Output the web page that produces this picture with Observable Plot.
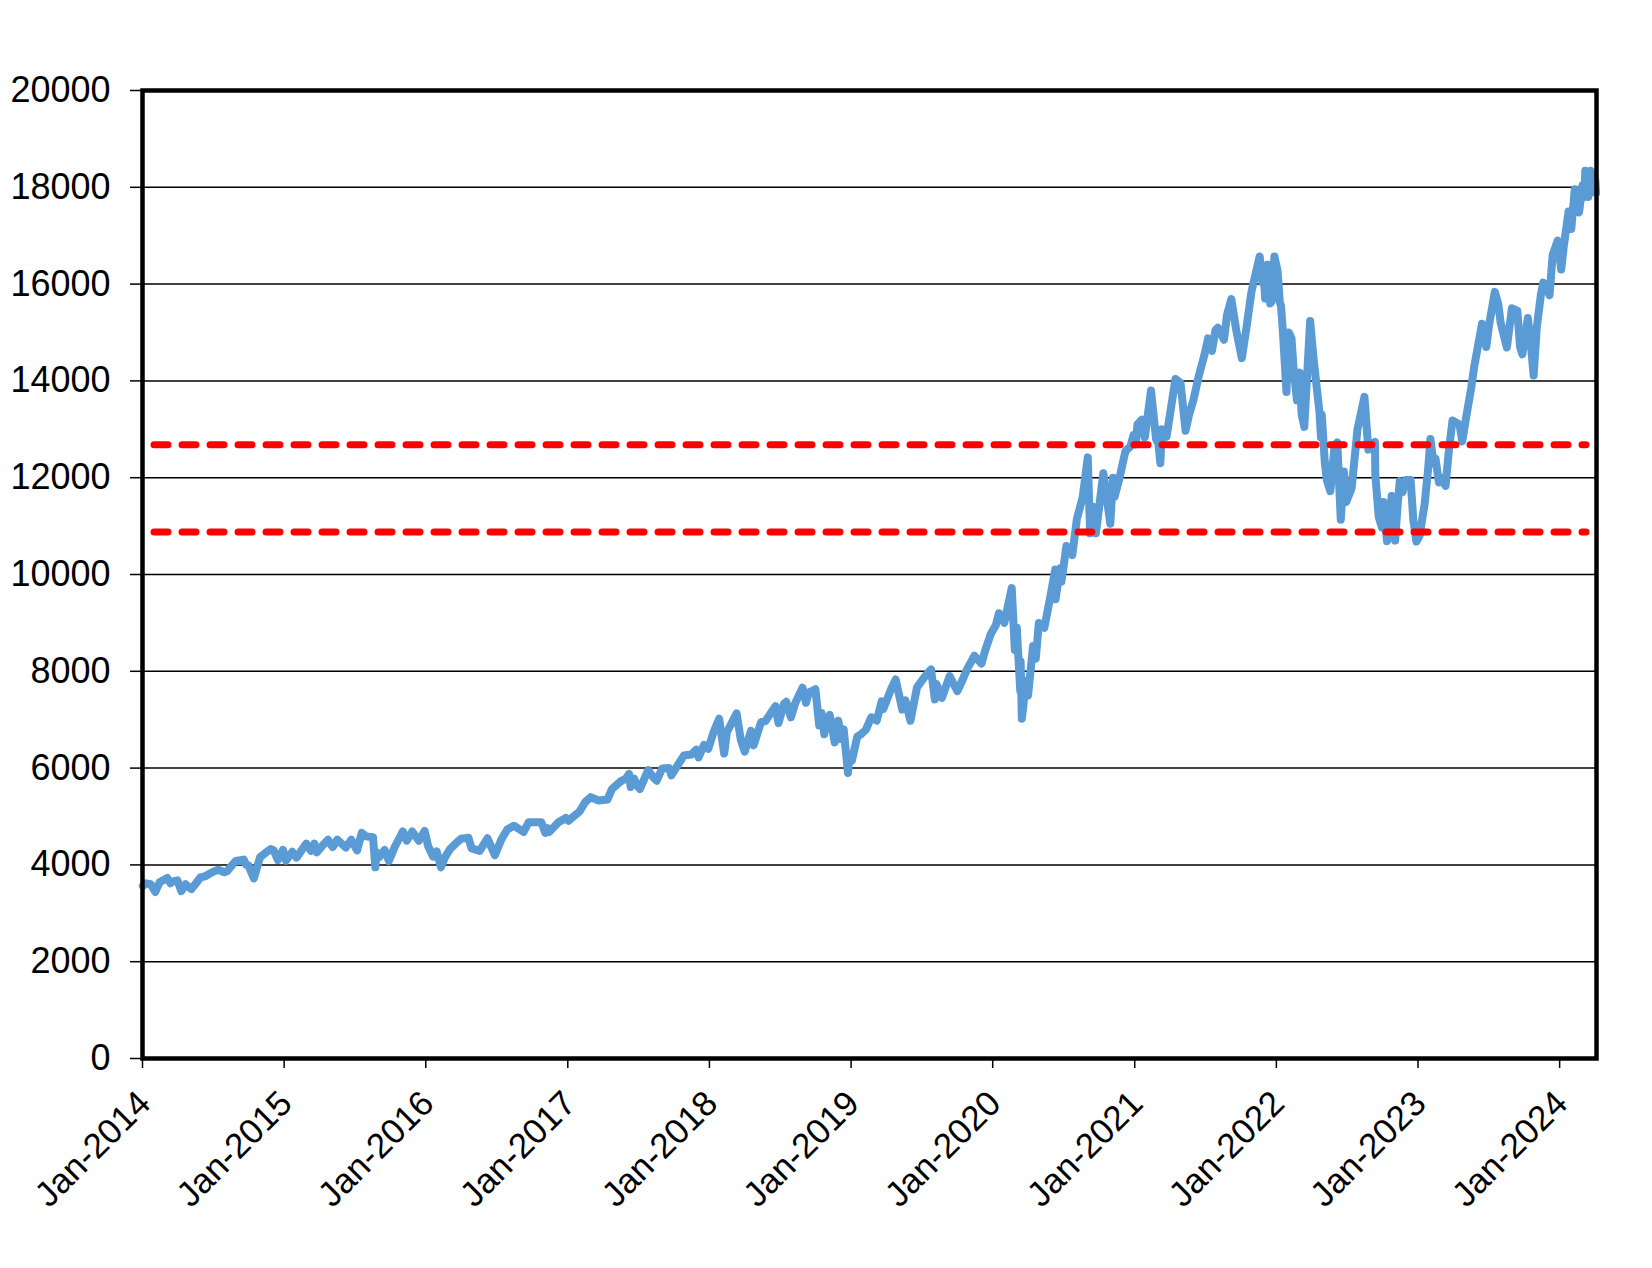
<!DOCTYPE html>
<html>
<head>
<meta charset="utf-8">
<script src="https://cdn.jsdelivr.net/npm/d3@7"></script>
<script src="https://cdn.jsdelivr.net/npm/@observablehq/plot@0.6"></script>
<style>
  html, body { margin: 0; padding: 0; background: #ffffff; }
  #chart svg { font-family: "Liberation Sans", Arial, sans-serif; overflow: visible; }
</style>
</head>
<body>
<div id="chart"></div>
<script>
// Index level by date
const dates = [
"2014-01-02","2014-01-10","2014-01-22","2014-02-03","2014-02-14","2014-03-06","2014-03-14","2014-03-21","2014-04-01","2014-04-11","2014-04-16","2014-04-22","2014-05-07","2014-05-15","2014-05-30","2014-06-13","2014-06-30","2014-07-15","2014-07-31","2014-08-07","2014-08-29","2014-09-19","2014-09-25","2014-10-01","2014-10-15","2014-10-31","2014-11-14","2014-11-28","2014-12-05","2014-12-16","2014-12-29",
"2015-01-06","2015-01-22","2015-02-02","2015-02-27","2015-03-11","2015-03-20","2015-03-26","2015-04-10","2015-04-24","2015-05-06","2015-05-18","2015-06-09","2015-06-23","2015-07-08","2015-07-20","2015-07-31","2015-08-18","2015-08-24","2015-08-27","2015-09-03","2015-09-17","2015-09-28","2015-10-13","2015-10-22","2015-11-03","2015-11-13","2015-11-27","2015-12-14","2015-12-29",
"2016-01-07","2016-01-20","2016-01-29","2016-02-09","2016-02-19","2016-03-04","2016-03-18","2016-04-01","2016-04-20","2016-04-28","2016-05-19","2016-06-08","2016-06-27","2016-07-14","2016-07-29","2016-08-15","2016-09-09","2016-09-22","2016-10-25","2016-11-04","2016-11-10","2016-11-14","2016-12-08","2016-12-27",
"2017-01-03","2017-01-17","2017-01-31","2017-02-15","2017-03-01","2017-03-21","2017-04-13","2017-04-25","2017-05-16","2017-05-30","2017-06-08","2017-06-12","2017-06-21","2017-06-29","2017-07-06","2017-07-27","2017-08-10","2017-08-18","2017-09-01","2017-09-19","2017-09-25","2017-10-13","2017-10-27","2017-11-15","2017-11-28","2017-12-04","2017-12-18","2017-12-29",
"2018-01-12","2018-01-26","2018-02-08","2018-02-15","2018-03-12","2018-03-23","2018-04-02","2018-04-18","2018-04-25","2018-05-14","2018-05-25","2018-06-20","2018-06-28","2018-07-12","2018-07-18","2018-07-30","2018-08-10","2018-08-29","2018-09-07","2018-09-14","2018-10-01","2018-10-11","2018-10-17","2018-10-24","2018-10-26","2018-11-07","2018-11-20","2018-11-29","2018-12-07","2018-12-13","2018-12-24","2018-12-28",
"2019-01-03","2019-01-17","2019-01-25","2019-02-08","2019-02-22","2019-03-08","2019-03-21","2019-03-25","2019-04-15","2019-04-26","2019-05-13","2019-05-21","2019-06-03","2019-06-20","2019-07-10","2019-07-26","2019-08-05","2019-08-09","2019-08-23","2019-09-12","2019-10-02","2019-10-14","2019-10-28","2019-11-15","2019-12-03","2019-12-13","2019-12-27",
"2020-01-09","2020-01-17","2020-01-31","2020-02-19","2020-02-27","2020-03-03","2020-03-12","2020-03-13","2020-03-16","2020-03-20","2020-03-26","2020-04-01","2020-04-14","2020-04-21","2020-04-29","2020-05-13","2020-05-29","2020-06-10","2020-06-11","2020-06-23","2020-06-26","2020-07-09","2020-07-24","2020-08-05","2020-08-20","2020-09-02","2020-09-08","2020-09-15","2020-09-23","2020-10-12","2020-10-30","2020-11-06","2020-11-10","2020-11-23","2020-12-08","2020-12-21","2020-12-29",
"2021-01-04","2021-01-08","2021-01-19","2021-01-27","2021-02-12","2021-02-25","2021-03-03","2021-03-08","2021-03-12","2021-03-24","2021-04-16","2021-04-29","2021-05-12","2021-05-21","2021-06-01","2021-06-15","2021-06-30","2021-07-09","2021-07-19","2021-07-28","2021-08-03","2021-08-19","2021-08-27","2021-09-07","2021-09-20","2021-10-04","2021-10-15","2021-10-29","2021-11-19","2021-11-26","2021-11-30","2021-12-03","2021-12-09","2021-12-13","2021-12-16","2021-12-20","2021-12-27",
"2022-01-04","2022-01-10","2022-01-13","2022-01-18","2022-01-27","2022-02-02","2022-02-09","2022-02-14","2022-02-23","2022-02-24","2022-03-02","2022-03-07","2022-03-14","2022-03-29","2022-04-07","2022-04-22","2022-04-26","2022-04-28","2022-05-06","2022-05-11","2022-05-20","2022-05-31","2022-06-07","2022-06-16","2022-06-24","2022-06-30","2022-07-14","2022-07-29","2022-08-16","2022-08-26","2022-09-12","2022-09-13","2022-09-22","2022-09-30","2022-10-04","2022-10-13","2022-10-20","2022-10-25","2022-11-03","2022-11-10","2022-11-15","2022-11-22","2022-11-30","2022-12-13","2022-12-20","2022-12-28",
"2023-01-05","2023-01-18","2023-01-27","2023-02-02","2023-02-10","2023-02-15","2023-02-24","2023-03-02","2023-03-13","2023-03-22","2023-03-31","2023-04-18","2023-04-25","2023-05-05","2023-05-18","2023-05-26","2023-06-15","2023-06-26","2023-07-03","2023-07-18","2023-07-27","2023-08-02","2023-08-18","2023-08-31","2023-09-14","2023-09-21","2023-09-27","2023-10-11","2023-10-20","2023-10-26","2023-11-03","2023-11-14","2023-11-20","2023-12-06","2023-12-14","2023-12-27",
"2024-01-05","2024-01-12","2024-01-24","2024-01-31","2024-02-09","2024-02-20","2024-02-29","2024-03-05","2024-03-07","2024-03-15","2024-03-21","2024-03-27","2024-04-02","2024-04-04"
];
const values = [
3563,3620,3600,3440,3640,3730,3620,3660,3680,3460,3520,3600,3500,3580,3740,3770,3850,3900,3850,3870,4080,4110,4000,3990,3720,4160,4250,4330,4300,4100,4310,
4090,4270,4150,4440,4290,4440,4260,4400,4520,4370,4520,4360,4520,4300,4660,4590,4570,3950,4260,4160,4310,4080,4370,4510,4690,4500,4690,4500,4700,
4390,4170,4280,3950,4150,4330,4440,4540,4560,4340,4290,4550,4200,4530,4730,4810,4680,4880,4880,4660,4760,4680,4880,4970,
4910,5010,5100,5300,5400,5330,5350,5570,5720,5780,5880,5610,5780,5630,5570,5960,5800,5740,5990,6000,5850,6080,6260,6280,6380,6220,6480,6400,
6750,7020,6300,6740,7130,6580,6340,6770,6470,6950,6970,7280,6930,7330,7370,7050,7340,7660,7350,7560,7630,6880,7140,6700,6830,7100,6530,6980,6600,6800,5900,6280,
6150,6650,6690,6790,7050,6980,7380,7220,7650,7830,7210,7400,6980,7670,7890,8040,7420,7740,7450,7900,7590,7800,8060,8320,8160,8440,8770,
8950,9200,9000,9720,8440,8900,7600,8200,7020,7290,7800,7500,8520,8260,9000,8900,9560,10100,9490,10130,9850,10590,10400,11150,11600,12420,10850,11400,10850,12090,11050,12000,11600,12000,12550,12650,12880,
12690,13100,13200,12830,13800,12800,12700,12300,13000,12850,14040,13960,12970,13300,13600,14100,14550,14880,14620,15050,15100,14850,15370,15690,15030,14470,15050,15850,16570,16030,16130,15700,16400,16060,15600,15640,16570,
16280,15620,15550,15000,13770,15000,14880,14300,13600,14070,14170,13320,13050,15240,14450,13360,12830,13300,12300,11950,11720,12640,12730,11130,12130,11500,11780,13000,13670,12580,12740,12050,11180,10970,11500,10690,11100,11620,10700,11480,11930,11700,11950,11950,11120,10680,
10800,11450,12170,12800,12300,12400,11900,12000,11830,12600,13180,13100,12750,13240,13850,14300,15180,14700,15150,15840,15580,15200,14690,15500,15450,14700,14550,15300,14650,14110,15100,15800,16030,15770,16600,16900,
16300,16800,17500,17140,17960,17480,18040,17800,18340,17800,18340,18210,18140,17880
];
// Horizontal reference levels (red dashed)
const levels = [12680, 10880];
// Axis ticks
const yTicks = [0, 2000, 4000, 6000, 8000, 10000, 12000, 14000, 16000, 18000, 20000];
const xTickLabels = ["Jan-2014","Jan-2015","Jan-2016","Jan-2017","Jan-2018","Jan-2019","Jan-2020","Jan-2021","Jan-2022","Jan-2023","Jan-2024"];
const xDomain = ["2014-01-01", "2024-04-05"];

const parseTick = d3.utcParse("%b-%Y");
const xTickDates = xTickLabels.map(parseTick);
const data = dates.map((d, i) => ({date: new Date(d), value: values[i]}));

const chart = Plot.plot({
  width: 1652,
  height: 1268,
  marginTop: 90,
  marginBottom: 210,
  marginLeft: 142,
  marginRight: 56,
  style: {fontFamily: '"Liberation Sans", Arial, sans-serif', background: "#ffffff", color: "#000000"},
  x: {type: "utc", domain: xDomain.map(d => new Date(d))},
  y: {domain: [0, 20000]},
  marks: [
    Plot.gridY(yTicks, {stroke: "#000000", strokeOpacity: 1, strokeWidth: 1.5}),
    Plot.line(data, {x: "date", y: "value", stroke: "#5B9BD5", strokeWidth: 8, strokeLinejoin: "round", strokeLinecap: "round"}),
    Plot.ruleY(levels, {stroke: "#FF0000", strokeWidth: 7, strokeDasharray: "14,14", strokeLinecap: "round", insetLeft: 12, insetRight: 10}),
    Plot.frame({stroke: "#000000", strokeWidth: 4.5}),
    Plot.axisY(yTicks, {tickSize: 12, tickPadding: 20, fontSize: 36, strokeWidth: 1.5, tickFormat: d3.format("d"), label: null}),
    Plot.axisX(xTickDates, {tickSize: 10, strokeWidth: 1.5, tickFormat: () => "", label: null}),
    Plot.text(xTickDates, {x: d => d, frameAnchor: "bottom", text: (d, i) => xTickLabels[i], rotate: -45, textAnchor: "end", lineAnchor: "bottom", dx: 10, dy: 47, fontSize: 35, fill: "#000000"})
  ]
});
document.getElementById("chart").appendChild(chart);
</script>
</body>
</html>
